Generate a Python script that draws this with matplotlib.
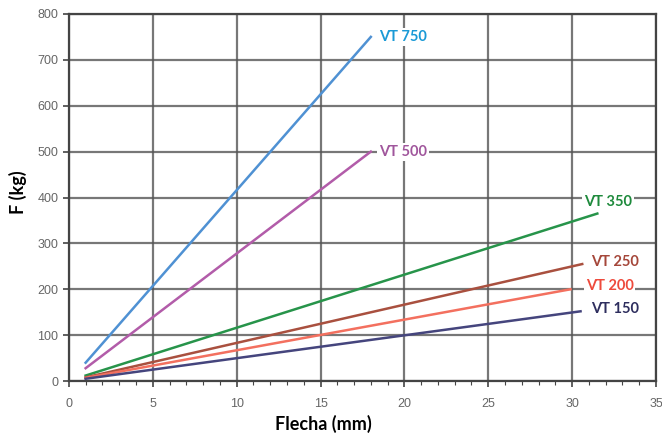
import matplotlib
matplotlib.use("Agg")
import matplotlib.pyplot as plt
from matplotlib.ticker import MultipleLocator

names = ["VT 750", "VT 500", "VT 350", "VT 250", "VT 200", "VT 150"]
x_start = [1, 1, 1, 1, 1, 1]
x_end = [18, 18, 31.5, 30.6, 29.9, 30.5]
f_start = [40, 28, 12, 8, 7, 5]
f_end = [750, 500, 365, 255, 200, 152]
label_x = [18.5, 18.5, 30.7, 31.1, 30.8, 31.1]
label_y = [750, 499, 390, 259, 207, 157]
line_colors = ["#4f91d3", "#b25ca9", "#27944a", "#a9503f", "#f3705f", "#45457d"]
text_colors = ["#1a9ad6", "#a0569c", "#1e8a3c", "#a5473a", "#ee4a3c", "#2e2e5e"]

fig = plt.figure(figsize=(6.62, 4.36), dpi=100)
ax = fig.add_axes([0.104, 0.126, 0.887, 0.842])

for i, n in enumerate(names):
    ax.plot([x_start[i], x_end[i]], [f_start[i], f_end[i]], color=line_colors[i], lw=1.8, zorder=3)
    ax.text(label_x[i], label_y[i], n, color=text_colors[i], fontsize=10.5, fontweight="bold",
            family="Lato", ha="left", va="center", zorder=4,
            bbox=dict(facecolor="white", edgecolor="none", pad=1.5))

ax.set_xlim(0, 35)
ax.set_ylim(0, 800)
ax.xaxis.set_major_locator(MultipleLocator(5))
ax.xaxis.set_minor_locator(MultipleLocator(1))
ax.yaxis.set_major_locator(MultipleLocator(100))
ax.grid(True, which="major", color="#555555", lw=1.6, alpha=0.8, zorder=1)
ax.set_axisbelow(True)
for s in ax.spines.values():
    s.set_color("#444444")
    s.set_linewidth(1.6)
ax.tick_params(axis="both", which="major", colors="#444444", labelcolor="#666666",
               labelsize=9, length=4, width=1.2)
for lab in ax.get_xticklabels() + ax.get_yticklabels():
    lab.set_family("Liberation Sans")
ax.tick_params(axis="x", which="minor", colors="#444444", length=3, width=0.8)
ax.tick_params(axis="x", pad=8)
ax.set_xlabel("Flecha (mm)", fontsize=13, fontweight="bold", family="Lato")
ax.set_ylabel("F (kg)", fontsize=13, fontweight="bold", family="Lato")
ax.xaxis.set_label_coords(0.434, -0.092)
ax.yaxis.set_label_coords(-0.072, 0.515)

fig.savefig("out.png", dpi=100)
